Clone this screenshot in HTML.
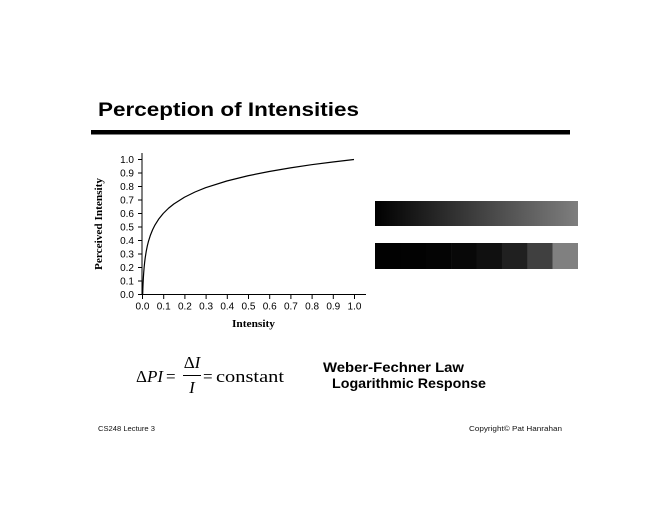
<!DOCTYPE html>
<html>
<head>
<meta charset="utf-8">
<style>
html,body{margin:0;padding:0;background:#fff;}
svg{display:block;}
</style>
</head>
<body>
<svg width="660" height="510" viewBox="0 0 660 510" xmlns="http://www.w3.org/2000/svg">
<defs>
<linearGradient id="g1" x1="0" y1="0" x2="1" y2="0">
<stop offset="0" stop-color="#000"/>
<stop offset="1" stop-color="#7e7e7e"/>
</linearGradient>
</defs>
<rect width="660" height="510" fill="#fff"/>

<!-- Title -->
<text x="98" y="116" font-family="Liberation Sans, sans-serif" font-weight="bold" font-size="19" textLength="261" lengthAdjust="spacingAndGlyphs">Perception of Intensities</text>
<rect x="91" y="130" width="479" height="4.5" fill="#000"/>

<!-- Axes -->
<g stroke="#000" stroke-width="1" fill="none">
<line x1="142" y1="153" x2="142" y2="295"/>
<line x1="141.5" y1="294.5" x2="366" y2="294.5"/>
<line x1="138" y1="159.5" x2="142" y2="159.5"/>
<line x1="138" y1="173" x2="142" y2="173"/>
<line x1="138" y1="186.5" x2="142" y2="186.5"/>
<line x1="138" y1="200" x2="142" y2="200"/>
<line x1="138" y1="213.5" x2="142" y2="213.5"/>
<line x1="138" y1="227" x2="142" y2="227"/>
<line x1="138" y1="240.5" x2="142" y2="240.5"/>
<line x1="138" y1="254" x2="142" y2="254"/>
<line x1="138" y1="267.5" x2="142" y2="267.5"/>
<line x1="138" y1="281" x2="142" y2="281"/>
<line x1="138" y1="294.5" x2="142" y2="294.5"/>
<line x1="142.5" y1="294.5" x2="142.5" y2="299"/>
<line x1="163.7" y1="294.5" x2="163.7" y2="299"/>
<line x1="184.9" y1="294.5" x2="184.9" y2="299"/>
<line x1="206.1" y1="294.5" x2="206.1" y2="299"/>
<line x1="227.3" y1="294.5" x2="227.3" y2="299"/>
<line x1="248.5" y1="294.5" x2="248.5" y2="299"/>
<line x1="269.7" y1="294.5" x2="269.7" y2="299"/>
<line x1="290.9" y1="294.5" x2="290.9" y2="299"/>
<line x1="312.1" y1="294.5" x2="312.1" y2="299"/>
<line x1="333.3" y1="294.5" x2="333.3" y2="299"/>
<line x1="354.5" y1="294.5" x2="354.5" y2="299"/>
</g>

<!-- y tick labels -->
<g font-family="Liberation Sans, sans-serif" font-size="10" text-anchor="end" fill="#000">
<text x="134" y="163">1.0</text>
<text x="134" y="176.5">0.9</text>
<text x="134" y="190">0.8</text>
<text x="134" y="203.5">0.7</text>
<text x="134" y="217">0.6</text>
<text x="134" y="230.5">0.5</text>
<text x="134" y="244">0.4</text>
<text x="134" y="257.5">0.3</text>
<text x="134" y="271">0.2</text>
<text x="134" y="284.5">0.1</text>
<text x="134" y="298">0.0</text>
</g>
<!-- x tick labels -->
<g font-family="Liberation Sans, sans-serif" font-size="10" text-anchor="middle" fill="#000">
<text x="142.5" y="309.5">0.0</text>
<text x="163.7" y="309.5">0.1</text>
<text x="184.9" y="309.5">0.2</text>
<text x="206.1" y="309.5">0.3</text>
<text x="227.3" y="309.5">0.4</text>
<text x="248.5" y="309.5">0.5</text>
<text x="269.7" y="309.5">0.6</text>
<text x="290.9" y="309.5">0.7</text>
<text x="312.1" y="309.5">0.8</text>
<text x="333.3" y="309.5">0.9</text>
<text x="354.5" y="309.5">1.0</text>
</g>

<!-- axis titles -->
<text x="232" y="327" font-family="Liberation Serif, serif" font-weight="bold" font-size="11" textLength="43" lengthAdjust="spacingAndGlyphs">Intensity</text>
<text transform="translate(102,270) rotate(-90)" x="0" y="0" font-family="Liberation Serif, serif" font-weight="bold" font-size="11" textLength="92" lengthAdjust="spacingAndGlyphs">Perceived Intensity</text>

<!-- curve -->
<polyline fill="none" stroke="#000" stroke-width="1.2" stroke-linejoin="round"
points="142.67,294.5 142.85,289.0 143.06,283.75 143.38,277.6 143.70,272.74 144.12,267.5 144.65,262.26 145.18,258.0 146.24,251.25 147.3,246.0 148.36,241.74 150.48,234.99 152.6,229.75 154.72,225.49 158.96,218.74 163.2,213.5 168.5,208.26 173.8,204.0 184.4,197.25 195,192.0 205.6,187.74 226.8,181.0 248,175.75 269.2,171.5 290.4,167.9 311.6,164.7 332.8,162.0 354,159.5"/>

<!-- gradient bars -->
<rect x="375" y="201" width="203" height="25" fill="url(#g1)"/>
<g>
<rect x="375" y="243" width="25.6" height="26" fill="#010101"/>
<rect x="400.4" y="243" width="25.6" height="26" fill="#020202"/>
<rect x="425.75" y="243" width="25.6" height="26" fill="#040404"/>
<rect x="451.1" y="243" width="25.6" height="26" fill="#080808"/>
<rect x="476.5" y="243" width="25.6" height="26" fill="#101010"/>
<rect x="501.9" y="243" width="25.6" height="26" fill="#202020"/>
<rect x="527.25" y="243" width="25.6" height="26" fill="#404040"/>
<rect x="552.6" y="243" width="25.4" height="26" fill="#808080"/>
</g>

<!-- equation -->
<g font-family="Liberation Serif, serif" font-size="17" fill="#000">
<text x="136" y="382">Δ<tspan font-style="italic">PI</tspan></text>
<text x="166" y="382">=</text>
<text x="192" y="368" text-anchor="middle">Δ<tspan font-style="italic">I</tspan></text>
<text x="192" y="393" text-anchor="middle" font-style="italic">I</text>
<text x="203" y="382">=</text>
<text x="216" y="382" textLength="68" lengthAdjust="spacingAndGlyphs">constant</text>
</g>
<line x1="183" y1="375.5" x2="201" y2="375.5" stroke="#000" stroke-width="1"/>

<!-- Weber-Fechner -->
<g font-family="Liberation Sans, sans-serif" font-weight="bold" font-size="14" fill="#000">
<text x="323" y="372" textLength="141" lengthAdjust="spacingAndGlyphs">Weber-Fechner Law</text>
<text x="332" y="388" textLength="154" lengthAdjust="spacingAndGlyphs">Logarithmic Response</text>
</g>

<!-- footer -->
<g font-family="Liberation Sans, sans-serif" font-size="7.5" fill="#111">
<text x="98" y="431" textLength="57" lengthAdjust="spacingAndGlyphs">CS248 Lecture 3</text>
<text x="469" y="431" textLength="93" lengthAdjust="spacingAndGlyphs">Copyright© Pat Hanrahan</text>
</g>
</svg>
</body>
</html>
